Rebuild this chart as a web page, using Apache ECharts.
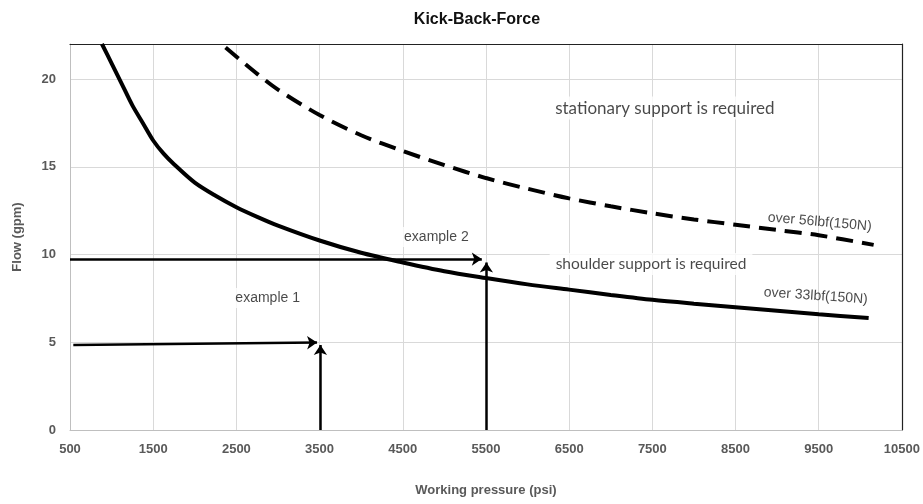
<!DOCTYPE html>
<html>
<head>
<meta charset="utf-8">
<script src="https://cdn.jsdelivr.net/npm/echarts@6/dist/echarts.min.js"></script>
<style>html,body{margin:0;padding:0;background:#fff;}#c{width:923px;height:504px;}</style>
</head>
<body>
<div id="c"></div>
<script>
// Pressure (psi) / flow (gpm)
const pressure33 = [884, 1000, 1125, 1250, 1375, 1500, 1625, 1750, 2000, 2250, 2500, 2750, 3000, 3500, 4000, 4500, 5000, 5500, 6000, 6500, 7000, 7500, 8000, 8500, 9000, 9500, 10100];
const flow33     = [22.0, 20.9, 19.7, 18.5, 17.5, 16.5, 15.75, 15.15, 14.1, 13.35, 12.7, 12.15, 11.65, 10.8, 10.1, 9.55, 9.05, 8.66, 8.3, 8.0, 7.7, 7.42, 7.2, 7.0, 6.8, 6.6, 6.38];
const pressure56 = [2370, 2750, 3000, 3500, 4000, 4500, 5000, 5500, 6000, 6500, 7000, 7500, 8000, 8500, 9000, 9500, 10160];
const flow56     = [21.8, 20.3, 19.4, 17.95, 16.8, 15.9, 15.1, 14.36, 13.75, 13.2, 12.75, 12.35, 12.0, 11.7, 11.4, 11.1, 10.55];
const xTicks = [500, 1500, 2500, 3500, 4500, 5500, 6500, 7500, 8500, 9500, 10500];
const yTicks = [0, 5, 10, 15, 20];
// example arrows: [fromPressure, fromFlow, toPressure, toFlow]
const arrows = [
  [540, 4.85, 3470, 4.98],
  [3510, 0, 3510, 4.85],
  [500, 9.74, 5450, 9.74],
  [5505, 0, 5505, 9.55]
];
// annotation texts at [pressure, flow]
const notes = [
  {text: 'stationary support is required', at: [7650, 18.35], font: 'calibri', rot: 0},
  {text: 'shoulder support is required', at: [7484, 9.46], font: 'calibri', rot: 0},
  {text: 'example 2', at: [4904, 11.0], font: 'arial', rot: 0},
  {text: 'example 1', at: [2876, 7.52], font: 'arial', rot: 0},
  {text: 'over 56lbf(150N)', at: [9512, 11.85], font: 'arial', rot: -5},
  {text: 'over 33lbf(150N)', at: [9464, 7.64], font: 'arial', rot: -4}
];
const noteSizes = [17, 15.5, 14, 14, 14, 14];

const chart = echarts.init(document.getElementById('c'));
const axisFont = {fontFamily: '"Liberation Sans Narrow", "Liberation Sans", Arial, sans-serif', fontWeight: 'bold', color: '#595959', fontSize: 13};
const zip = (a, b) => a.map((v, i) => [v, b[i]]);

chart.setOption({
  animation: false,
  title: {
    text: 'Kick-Back-Force', left: 472, top: 7, textAlign: 'center',
    textStyle: {fontFamily: '"Liberation Sans Narrow", "Liberation Sans", Arial, sans-serif', fontWeight: 'bold', fontSize: 16, color: '#111'}
  },
  grid: {left: 70, right: 21, top: 44, bottom: 74},
  xAxis: [{
    type: 'value', min: 500, max: 10500, interval: 1000,
    name: 'Working pressure (psi)', nameLocation: 'middle', nameGap: 54,
    nameTextStyle: axisFont,
    axisLine: {show: true, lineStyle: {color: '#bfbfbf', width: 1}},
    axisTick: {show: false},
    axisLabel: Object.assign({margin: 13, formatter: v => xTicks.includes(v) ? String(v) : ''}, axisFont),
    splitLine: {show: true, lineStyle: {color: '#d9d9d9', width: 1}}
  }, {
    type: 'value', position: 'top', min: 500, max: 10500,
    axisLine: {show: true, onZero: false, lineStyle: {color: '#222', width: 1.2}},
    axisTick: {show: false}, axisLabel: {show: false}, splitLine: {show: false}
  }],
  yAxis: [{
    type: 'value', min: 0, max: 22, interval: 5,
    name: 'Flow (gpm)', nameLocation: 'middle', nameGap: 46,
    nameTextStyle: axisFont,
    axisLine: {show: true, lineStyle: {color: '#bfbfbf', width: 1}},
    axisTick: {show: false},
    axisLabel: Object.assign({margin: 14, formatter: v => yTicks.includes(v) ? String(v) : ''}, axisFont),
    splitLine: {show: true, lineStyle: {color: '#d9d9d9', width: 1}}
  }, {
    type: 'value', position: 'right', min: 0, max: 22,
    axisLine: {show: true, onZero: false, lineStyle: {color: '#222', width: 1.2}},
    axisTick: {show: false}, axisLabel: {show: false}, splitLine: {show: false}
  }],
  series: [
    {
      type: 'scatter', symbolSize: 0, z: 3, silent: true,
      data: notes.map((n, i) => ({
        value: n.at,
        label: {
          show: true, position: 'inside', formatter: n.text, rotate: n.rot,
          fontFamily: n.font === 'calibri' ? 'Lato, "Open Sans", sans-serif' : '"Liberation Sans", Arial, sans-serif',
          fontSize: noteSizes[i],
          color: '#1a1a1a', backgroundColor: n.rot ? 'transparent' : '#fff', padding: [3, 6]
        }
      }))
    },
    {
      type: 'line', data: zip(pressure33, flow33), smooth: 0.3, showSymbol: false, z: 4,
      lineStyle: {color: '#000', width: 4}
    },
    {
      type: 'line', data: zip(pressure56, flow56), smooth: 0.3, showSymbol: false, z: 4,
      lineStyle: {color: '#000', width: 4, type: [17, 9]}
    },
    {
      type: 'lines', coordinateSystem: 'cartesian2d', z: 5,
      symbol: ['none', 'arrow'], symbolSize: 10,
      lineStyle: {color: '#000', width: 2.5, opacity: 1, curveness: 0},
      data: arrows.map(a => ({coords: [[a[0], a[1]], [a[2], a[3]]]}))
    }
  ]
});
</script>
</body>
</html>
